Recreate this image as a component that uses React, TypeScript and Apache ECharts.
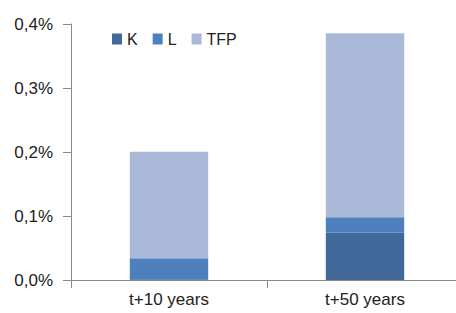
import React, { useEffect, useRef } from "react";
import * as echarts from "echarts";

const categories = ["t+10 years", "t+50 years"];
const kValues = [0.001, 0.074];
const lValues = [0.033, 0.024];
const tfpValues = [0.1665, 0.2875];
const yTicks = [0, 0.1, 0.2, 0.3, 0.4];

export default function App() {
  const ref = useRef<HTMLDivElement>(null);
  useEffect(() => {
    if (!ref.current) return;
    const chart = echarts.init(ref.current, undefined, { renderer: "svg" });
    const font = "'Liberation Sans', Arial, sans-serif";
    chart.setOption({
      animation: false,
      textStyle: { fontFamily: font },
      grid: { left: 71, top: 24, bottom: 33, right: 0, containLabel: false },
      legend: {
        left: 112,
        top: 31,
        padding: 0,
        itemWidth: 10,
        itemHeight: 11,
        itemGap: 15,
        icon: "rect",
        textStyle: { fontSize: 16, color: "#222", fontFamily: font },
        data: ["K", "L", "TFP"],
      },
      xAxis: {
        type: "category",
        data: categories,
        axisLine: { lineStyle: { color: "#888", width: 1 } },
        axisTick: { show: true, alignWithLabel: false, length: 8, lineStyle: { color: "#888" } },
        axisLabel: { fontSize: 17, color: "#222", margin: 11, fontFamily: font },
        splitLine: { show: false },
      },
      yAxis: {
        type: "value",
        min: 0,
        max: yTicks[yTicks.length - 1],
        interval: 0.1,
        axisLine: { show: true, lineStyle: { color: "#888", width: 1 } },
        axisTick: { show: true, length: 8, lineStyle: { color: "#888" } },
        splitLine: { show: false },
        axisLabel: {
          fontSize: 17,
          color: "#222",
          margin: 18,
          fontFamily: font,
          formatter: (v: number) => v.toFixed(1).replace(".", ",") + "%",
        },
      },
      series: [
        { name: "K", type: "bar", stack: "a", data: kValues, barWidth: "40%", itemStyle: { color: "#41699A" } },
        { name: "L", type: "bar", stack: "a", data: lValues, barWidth: "40%", itemStyle: { color: "#4E80BD" } },
        { name: "TFP", type: "bar", stack: "a", data: tfpValues, barWidth: "40%", itemStyle: { color: "#AAB9D7" } },
      ],
    });
    return () => chart.dispose();
  }, []);
  return (
    <div style={{ width: 456, height: 313, position: "absolute", left: 0, top: 0, overflow: "hidden" }}>
      <div ref={ref} style={{ width: 463, height: 313 }} />
    </div>
  );
}
